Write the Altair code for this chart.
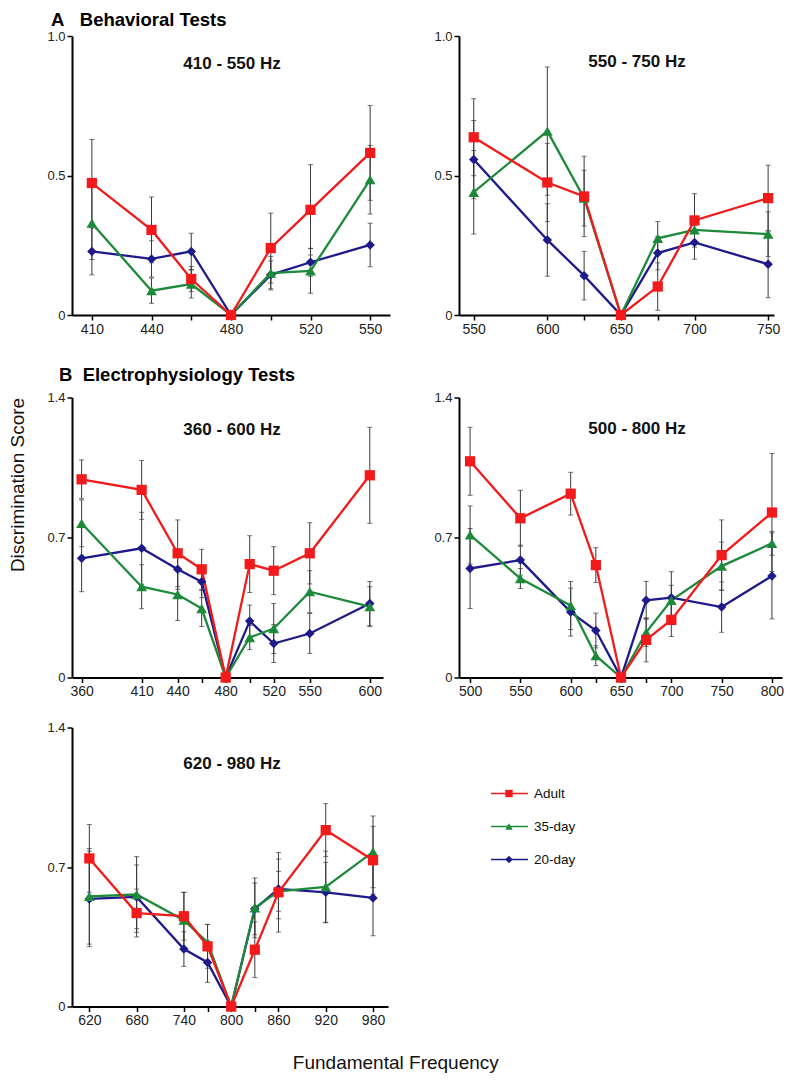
import altair as alt
import pandas as pd

FONT = "Liberation Sans"

# ---------------- data ----------------
SERIES_DRAW = ["20-day", "35-day", "Adult"]
LEGEND_SERIES = ["Adult", "35-day", "20-day"]

# A: Behavioral 410-550 Hz
a1_freq = [410, 440, 460, 480, 500, 520, 550]
a1_adult = [0.473, 0.305, 0.129, 0.0, 0.240, 0.377, 0.581]
a1_adult_err = [0.156, 0.118, 0.045, 0.0, 0.125, 0.162, 0.170]
a1_d35 = [0.329, 0.087, 0.111, 0.0, 0.150, 0.158, 0.485]
a1_d35_err = [0.130, 0.045, 0.050, 0.0, 0.060, 0.080, 0.123]
a1_d20 = [0.228, 0.201, 0.228, 0.0, 0.144, 0.189, 0.251]
a1_d20_err = [0.084, 0.065, 0.065, 0.0, 0.050, 0.050, 0.078]
a1_labels = [410, 440, 480, 520, 550]

# A: Behavioral 550-750 Hz
a2_freq = [550, 600, 625, 650, 675, 700, 750]
a2_adult = [0.637, 0.475, 0.425, 0.0, 0.102, 0.339, 0.419]
a2_adult_err = [0.138, 0.140, 0.144, 0.0, 0.085, 0.096, 0.118]
a2_d35 = [0.440, 0.659, 0.419, 0.0, 0.275, 0.305, 0.290]
a2_d35_err = [0.150, 0.230, 0.100, 0.0, 0.060, 0.040, 0.080]
a2_d20 = [0.557, 0.269, 0.141, 0.0, 0.222, 0.260, 0.182]
a2_d20_err = [0.140, 0.130, 0.087, 0.0, 0.060, 0.060, 0.120]
a2_labels = [550, 600, 650, 700, 750]

# B: Electrophysiology 360-600 Hz
b1_freq = [360, 410, 440, 460, 480, 500, 520, 550, 600]
b1_adult = [0.991, 0.938, 0.621, 0.541, 0.0, 0.567, 0.534, 0.621, 1.011]
b1_adult_err = [0.097, 0.147, 0.167, 0.100, 0.0, 0.142, 0.120, 0.153, 0.240]
b1_d35 = [0.771, 0.454, 0.415, 0.345, 0.0, 0.200, 0.245, 0.429, 0.354]
b1_d35_err = [0.117, 0.110, 0.130, 0.090, 0.0, 0.060, 0.125, 0.105, 0.100]
b1_d20 = [0.596, 0.646, 0.541, 0.479, 0.0, 0.282, 0.170, 0.220, 0.370]
b1_d20_err = [0.167, 0.180, 0.100, 0.080, 0.0, 0.080, 0.095, 0.100, 0.110]
b1_labels = [360, 410, 440, 480, 520, 550, 600]

# B: Electrophysiology 500-800 Hz
b2_freq = [500, 550, 600, 625, 650, 675, 700, 750, 800]
b2_adult = [1.081, 0.796, 0.919, 0.562, 0.0, 0.188, 0.288, 0.612, 0.825]
b2_adult_err = [0.170, 0.140, 0.107, 0.087, 0.0, 0.110, 0.083, 0.176, 0.295]
b2_d35 = [0.713, 0.495, 0.360, 0.109, 0.0, 0.226, 0.386, 0.557, 0.671]
b2_d35_err = [0.145, 0.050, 0.120, 0.050, 0.0, 0.070, 0.075, 0.120, 0.060]
b2_d20 = [0.545, 0.587, 0.327, 0.235, 0.0, 0.386, 0.399, 0.352, 0.508]
b2_d20_err = [0.200, 0.075, 0.120, 0.087, 0.0, 0.095, 0.130, 0.126, 0.215]
b2_labels = [500, 550, 600, 650, 700, 750, 800]

# B: Electrophysiology 620-980 Hz
c_freq = [620, 680, 740, 770, 800, 830, 860, 920, 980]
c_adult = [0.743, 0.469, 0.453, 0.302, 0.0, 0.285, 0.573, 0.885, 0.734]
c_adult_err = [0.170, 0.120, 0.120, 0.110, 0.0, 0.140, 0.200, 0.133, 0.170]
c_d35 = [0.553, 0.562, 0.433, 0.322, 0.0, 0.495, 0.578, 0.600, 0.776]
c_d35_err = [0.240, 0.190, 0.140, 0.090, 0.0, 0.150, 0.100, 0.180, 0.180]
c_d20 = [0.540, 0.550, 0.288, 0.221, 0.0, 0.490, 0.590, 0.573, 0.545]
c_d20_err = [0.240, 0.160, 0.087, 0.100, 0.0, 0.130, 0.150, 0.150, 0.190]
c_labels = [620, 680, 740, 800, 860, 920, 980]

# ---------------- styles ----------------
COLORS = {"Adult": "#f21a1a", "35-day": "#1d8a3b", "20-day": "#1f1a8a"}
SHAPES = {"Adult": "square", "35-day": "triangle-up", "20-day": "diamond"}
SIZES = {"Adult": 105, "35-day": 115, "20-day": 90}
NB = "\u00a0"


def long_df(freqs, vals, errs):
    rows = []
    for s in vals:
        for f, v, e in zip(freqs, vals[s], errs[s]):
            rows.append({"freq": f, "series": s, "score": v, "err": e,
                         "lo": v - e, "hi": v + e})
    return pd.DataFrame(rows)


def panel(freqs, vals, errs, xdom, xlabels, ymax, yticks, w, h,
          subtitle, sub_xy, ytitle_mode):
    df = long_df(freqs, vals, errs)
    xscale = alt.Scale(domain=xdom, nice=False, zero=False)
    yscale = alt.Scale(domain=[0, ymax], nice=False, zero=True)
    lab = ",".join(str(v) for v in xlabels)
    xaxis = alt.Axis(values=freqs, title=None, grid=False, labelOverlap=False,
                     labelExpr=f"indexof([{lab}], datum.value) >= 0 ? datum.label : ''")
    ykw = dict(values=yticks, grid=False,
               labelExpr="datum.value == 0 ? '0' : format(datum.value, '.1f')")
    if ytitle_mode is None:
        yaxis = alt.Axis(title=None, **ykw)
    else:
        yaxis = alt.Axis(title="Discrimination Score",
                         titleOpacity=1 if ytitle_mode else 0,
                         titleX=-45, titleY=87, titleFontSize=19,
                         titleFontWeight="normal", titleColor="#111", **ykw)

    def X(f):
        return alt.X(f, type="quantitative", scale=xscale, axis=xaxis)

    def Y(f):
        return alt.Y(f, type="quantitative", scale=yscale, axis=yaxis)

    base = alt.Chart(df)
    errd = base.transform_filter("datum.err > 0")
    layers = [
        errd.mark_rule(color="#3a3a3a", strokeWidth=1).encode(
            x=X("freq"), y=Y("lo"), y2="hi:Q"),
        errd.mark_tick(orient="horizontal", size=5, thickness=1, color="#3a3a3a").encode(
            x=X("freq"), y=Y("hi")),
        errd.mark_tick(orient="horizontal", size=5, thickness=1, color="#3a3a3a").encode(
            x=X("freq"), y=Y("lo")),
    ]
    for s in SERIES_DRAW:
        sub = base.transform_filter(alt.datum.series == s)
        layers.append(sub.mark_line(color=COLORS[s], strokeWidth=2.3).encode(
            x=X("freq"), y=Y("score")))
    for s in SERIES_DRAW:
        sub = base.transform_filter(alt.datum.series == s)
        layers.append(sub.mark_point(shape=SHAPES[s], filled=True, size=SIZES[s],
                                     color=COLORS[s], opacity=1).encode(
            x=X("freq"), y=Y("score")))
    txt = alt.Chart(pd.DataFrame({"t": [subtitle]})).mark_text(
        font=FONT, fontSize=17, fontWeight="bold", color="#111",
        align="center", baseline="middle").encode(
        text="t:N", x=alt.value(sub_xy[0]), y=alt.value(sub_xy[1]))
    layers.append(txt)
    return alt.layer(*layers).properties(width=w, height=h)


def sdict(a, b, c):
    return {"Adult": a, "35-day": b, "20-day": c}


pA1 = panel(a1_freq, sdict(a1_adult, a1_d35, a1_d20),
            sdict(a1_adult_err, a1_d35_err, a1_d20_err),
            [400, 560], a1_labels, 1.0, [0, 0.5, 1.0], 318, 279,
            "410 - 550 Hz", (160, 28), False)
pA2 = panel(a2_freq, sdict(a2_adult, a2_d35, a2_d20),
            sdict(a2_adult_err, a2_d35_err, a2_d20_err),
            [540, 754], a2_labels, 1.0, [0, 0.5, 1.0], 315, 279,
            "550 - 750 Hz", (178, 26), None)
pB1 = panel(b1_freq, sdict(b1_adult, b1_d35, b1_d20),
            sdict(b1_adult_err, b1_d35_err, b1_d20_err),
            [352, 611], b1_labels, 1.4, [0, 0.7, 1.4], 311, 280,
            "360 - 600 Hz", (160, 32), True)
pB2 = panel(b2_freq, sdict(b2_adult, b2_d35, b2_d20),
            sdict(b2_adult_err, b2_d35_err, b2_d20_err),
            [489, 810], b2_labels, 1.4, [0, 0.7, 1.4], 323, 280,
            "500 - 800 Hz", (178, 31), None)
pC = panel(c_freq, sdict(c_adult, c_d35, c_d20),
           sdict(c_adult_err, c_d35_err, c_d20_err),
           [598, 999], c_labels, 1.4, [0, 0.7, 1.4], 316, 279,
           "620 - 980 Hz", (160, 36), False)

# legend panel
leg_df = pd.DataFrame({"series": LEGEND_SERIES})
leg_y = alt.Y("series:N", sort=LEGEND_SERIES, axis=None,
              scale=alt.Scale(type="point", padding=0, range=[66, 132]))
leg_base = alt.Chart(leg_df)
leg_layers = []
for s in LEGEND_SERIES:
    sub = leg_base.transform_filter(alt.datum.series == s)
    leg_layers.append(sub.mark_rule(color=COLORS[s], strokeWidth=1.5).encode(
        y=leg_y, x=alt.value(0), x2=alt.value(37)))
    leg_layers.append(sub.mark_point(shape=SHAPES[s], filled=True, size=55,
                                     color=COLORS[s], opacity=1).encode(
        y=leg_y, x=alt.value(18)))
leg_layers.append(leg_base.mark_text(font=FONT, fontSize=13.5, color="#111",
                                     align="left", baseline="middle").encode(
    y=leg_y, x=alt.value(43), text="series:N"))
legend = alt.layer(*leg_layers).properties(width=110, height=140)

row1 = alt.hconcat(pA1, pA2, spacing=43,
                   title=alt.TitleParams("A" + NB * 3 + "Behavioral Tests", anchor="start",
                                         fontSize=18.5, fontWeight="bold", font=FONT,
                                         color="#000", dx=43, offset=1))
row2 = alt.hconcat(pB1, pB2, spacing=50,
                   title=alt.TitleParams("B" + NB * 2 + "Electrophysiology Tests", anchor="start",
                                         fontSize=18.5, fontWeight="bold", font=FONT,
                                         color="#000", dx=51, offset=7))
row3 = alt.hconcat(pC, legend, spacing=102)

top_rows = alt.vconcat(row1, row2, spacing=29.5)

chart = alt.vconcat(
    top_rows, row3, spacing=22.5,
    title=alt.TitleParams("Fundamental Frequency", orient="bottom", anchor="middle",
                          fontSize=19, fontWeight="normal", font=FONT,
                          color="#111", offset=26),
).properties(
    padding={"left": -1, "top": 2, "right": 2, "bottom": 0}
).configure_view(stroke=None).configure_axis(
    domainColor="#000", domainWidth=2, tickColor="#000", tickWidth=1.5,
    tickSize=5, labelFont=FONT, labelFontSize=14, labelColor="#222",
    labelPadding=2, titleFont=FONT
).configure_axisY(labelFontSize=13)

chart.save("out.html", embed_options={"renderer": "svg", "actions": False})
